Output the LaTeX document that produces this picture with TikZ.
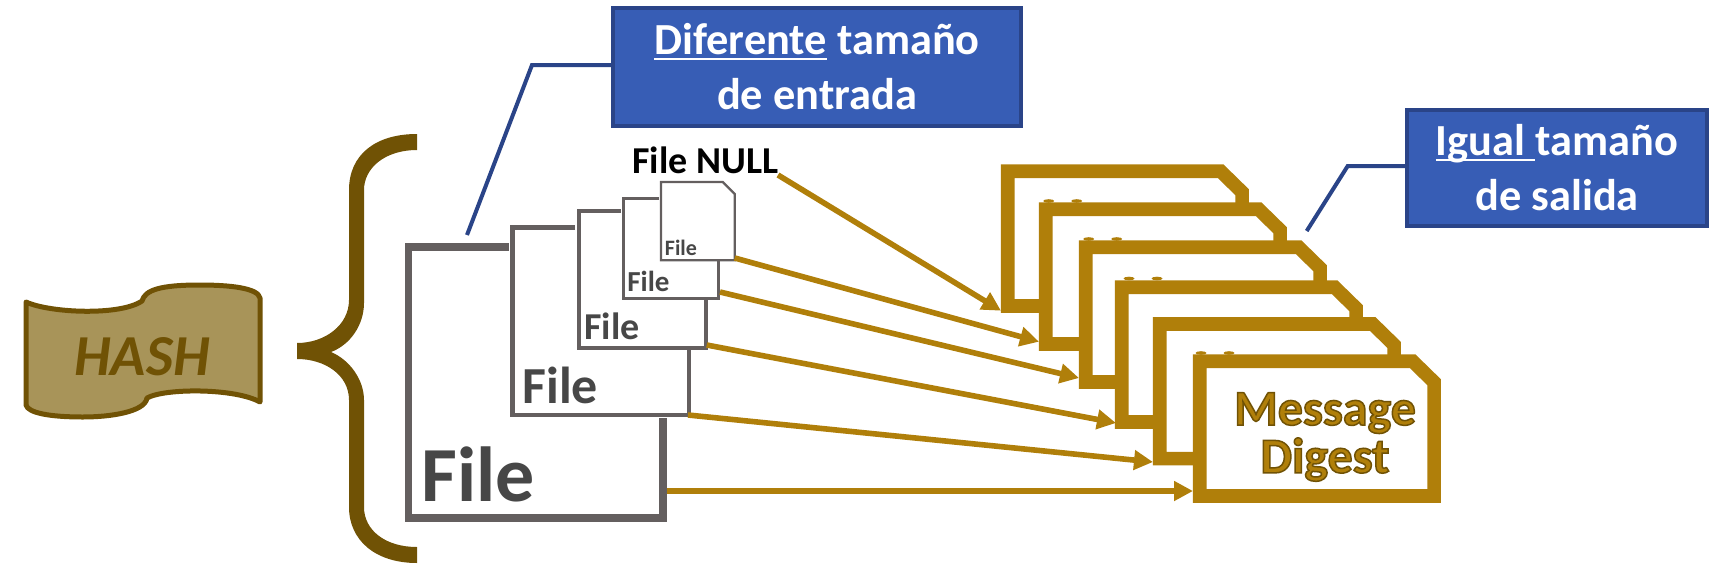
\documentclass[tikz,border=0pt]{standalone}
\usepackage{fontspec}
\setmainfont{Carlito}
\usetikzlibrary{arrows.meta}
\definecolor{gold}{HTML}{B07F0A}
\definecolor{brownd}{HTML}{705205}
\definecolor{tan}{HTML}{A89459}
\definecolor{filegrey}{HTML}{645F5F}
\definecolor{filetext}{HTML}{474747}
\definecolor{boxblue}{HTML}{375DB5}
\definecolor{boxedge}{HTML}{2A4488}
\newcommand\fsz[1]{\fontsize{#1}{#1}\selectfont\bfseries}
\newcommand\notefont{\fontsize{22.2}{27.5}\selectfont\bfseries}
\newcommand\mdfont{\fontsize{25}{23.9}\selectfont\bfseries\addfontfeature{FakeBold=3}}
\newcommand\mdword[1]{{\color{gold}\special{pdf:code 0.44 0.32 0.02 RG}#1}}
\newsavebox\ulbox
\newcommand\ulin[1]{\leavevmode\sbox\ulbox{#1}\rlap{\rule[-2.7pt]{\wd\ulbox}{1.1pt}}\usebox\ulbox}
\tikzset{
  filepath/.style={draw=filegrey,line cap=butt,miter limit=10},
  filelabel/.style={anchor=base west,inner sep=0pt,text=filetext},
  mdframe/.style={draw=gold,fill=white,line width=6.85pt,line join=miter},
  feed/.style={draw=gold,line width=2.8pt,-{Triangle[length=9.5pt,width=9.5pt]}},
  leader/.style={draw=boxedge,line width=2pt,line join=miter},
  note/.style={draw=boxedge,fill=boxblue,line width=1.8pt,text=white,inner sep=0pt,outer sep=0pt,align=center,font=\notefont},
}
\begin{document}
\begin{tikzpicture}[x=0.5pt,y=-0.5pt]
\useasboundingbox (0,0) rectangle (1720,568);
% HASH banner
\draw[fill=tan,draw=brownd,line width=2.5pt,line join=round]
  (26,302) .. controls (50,313) and (120,316) .. (142,301)
  .. controls (145,290) and (160,285) .. (200,285)
  .. controls (230,285) and (258,288) .. (260,298)
  -- (260,402)
  .. controls (235,388) and (165,388) .. (147,398)
  .. controls (145,412) and (110,417) .. (83,417)
  .. controls (50,417) and (28,413) .. (26,405) -- cycle;
\node[inner sep=0pt,text=brownd] (hash) at (142,357) {\fsz{29}\itshape HASH};
% brace
\fill[brownd] (417,134) .. controls (375,134) and (349,155) .. (349,190) -- (349,300)
  .. controls (349,325) and (325,343) .. (297,343) -- (297,359)
  .. controls (325,359) and (349,375) .. (349,400) -- (349,507)
  .. controls (349,540) and (375,563) .. (417,563) -- (417,547)
  .. controls (385,547) and (364,530) .. (364,507) -- (364,400)
  .. controls (364,380) and (350,360) .. (331,352)
  .. controls (350,345) and (364,325) .. (364,303) -- (364,190)
  .. controls (364,168) and (385,150) .. (417,150) -- cycle;
% input files
\draw[filepath,line width=3.65pt] (509,247) -- (408.5,247) -- (408.5,518) -- (663,518) -- (663,418);
\draw[filepath,line width=2.35pt] (575,227.7) -- (512.7,227.7) -- (512.7,415) -- (689,415) -- (689,348);
\draw[filepath,line width=2pt] (620.7,211) -- (578.7,211) -- (578.7,348) -- (705.7,348) -- (705.7,298);
\draw[filepath,line width=1.5pt] (659,198.7) -- (623.7,198.7) -- (623.7,298) -- (718.7,298) -- (718.7,260.7);
\draw[filepath,line width=1.15pt] (661,182) -- (722.7,182) -- (734.7,194) -- (734.7,260.3) -- (661,260.3) -- cycle;
\node[filelabel] (f1) at (421,501.7) {\fsz{39}File};
\node[filelabel] (f2) at (522,403) {\fsz{26}File};
\node[filelabel] (f3) at (584,339) {\fsz{19}File};
\node[filelabel] (f4) at (627,291.7) {\fsz{14.5}File};
\node[filelabel] (f5) at (664.5,255.7) {\fsz{11}File};
\node[anchor=base west,inner sep=0pt,text=black] (null) at (632,173) {\fsz{19}File NULL};
% output frames
\foreach \l/\t in {1007.8/171.2,1045.8/209.2,1085.8/247.2,1121.8/287.2,1159.8/323.9,1199.8/361.2}{
  \draw[mdframe] (\l,\t) -- ++(212.8,0) -- ++(21.5,21) -- ++(0,113.7) -- ++(-234.3,0) -- cycle;
}
\foreach \x/\y in {1048.7/201,1076.7/201,1088.7/239,1116.7/239,1129/278.5,1157/278.5,1201/353,1229/353}{
  \fill[gold] (\x,\y) ellipse [x radius=5.5,y radius=1.8];
}
\node[inner sep=0pt,align=center,font=\mdfont] (md) at (1325,437) {\mdword{Message}\\\mdword{Digest}};
% connectors
\coordinate (s1) at (778,175);      \coordinate (e1) at (1001,310.7);
\coordinate (s2) at (734.7,258);    \coordinate (e2) at (1039,341.7);
\coordinate (s3) at (720,292);      \coordinate (e3) at (1079,378);
\coordinate (s4) at (706.7,345);    \coordinate (e4) at (1116,423);
\coordinate (s5) at (688,415);      \coordinate (e5) at (1153,462);
\coordinate (s6) at (666.7,491);    \coordinate (e6) at (1193,491);
\foreach \i in {1,...,6}{ \draw[feed] (s\i) -- (e\i); }
% notes
\node[note,minimum width=204pt,minimum height=59pt] (box1) at (817,67) {\ulin{Diferente} tamaño\\de entrada};
\node[note,minimum width=150pt,minimum height=58pt] (box2) at (1557,168) {\ulin{Igual\ }tamaño\\de salida};
\coordinate (b1) at (532,65);  \coordinate (t1) at (467,235);
\coordinate (b2) at (1347.7,166); \coordinate (t2) at (1306.7,231);
\draw[leader] ([yshift=1pt]box1.west) -- (b1) -- (t1);
\draw[leader] ([yshift=1pt]box2.west) -- (b2) -- (t2);
\end{tikzpicture}
\end{document}
